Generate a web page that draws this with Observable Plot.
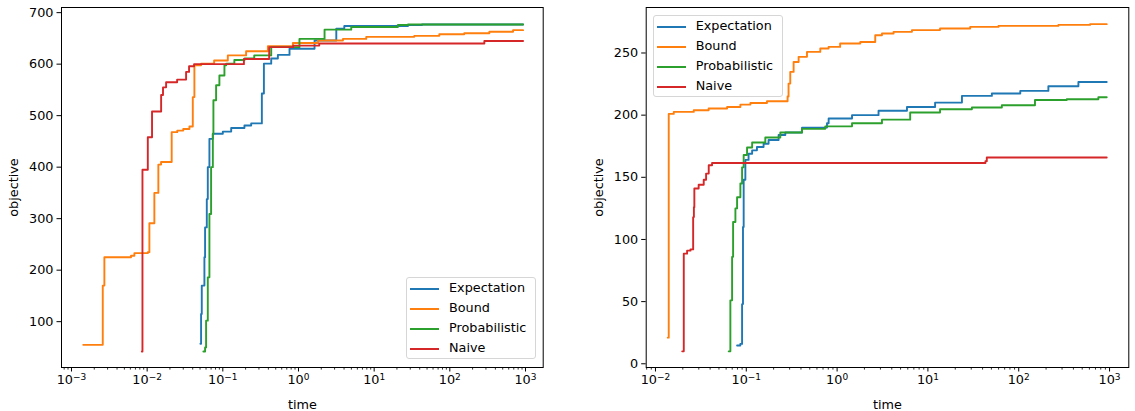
<!DOCTYPE html>
<html><head><meta charset="utf-8">
<script src="https://cdn.jsdelivr.net/npm/d3@7"></script>
<script src="https://cdn.jsdelivr.net/npm/@observablehq/plot@0.6"></script>
<style>
body{margin:0;background:#fff;}
#wrap{position:relative;width:1135px;height:411px;overflow:hidden;background:#fff;}
.panel{position:absolute;top:0;}
.legend{position:absolute;width:130px;height:82px;box-sizing:border-box;border:1px solid #d6d6d6;border-radius:3px;background:rgba(255,255,255,0.85);font:12.8px "DejaVu Sans";color:#000;}
.legend .row{position:absolute;left:0;height:16px;}
.legend .sw{position:absolute;left:3px;top:7px;width:29px;height:2px;}
.legend .lb{position:absolute;left:42px;top:-1px;white-space:nowrap;line-height:16px;}
</style></head><body><div id="wrap"></div>
<script>
const seriesNames = ["Expectation", "Bound", "Probabilistic", "Naive"];
const seriesColors = ["#1f77b4", "#ff7f0e", "#2ca02c", "#d62728"];

// Left panel
const leftExpectationTime = [0.0506,0.0516,0.0527,0.0571,0.0583,0.0614,0.0633,0.0665,0.0738,0.1,0.129,0.193,0.237,0.328,0.349,0.436,0.534,0.761,1.63,3.16,4.03,28,43,929];
const leftExpectationValue = [57,115,170,225,283,338,400,455,465,469,476,481,485,543,601,611,618,630,646,669,674,676,677,677];
const leftBoundTime = [0.00143,0.00259,0.00272,0.00612,0.00678,0.0102,0.0107,0.01245,0.01406,0.01527,0.0211,0.025,0.03,0.0362,0.0401,0.0421,0.0516,0.0767,0.1164,0.203,0.394,0.843,1.81,3.87,7.86,33.9,72.6,155,333,685,929];
const leftBoundValue = [55,170,225,228,233,235,291,350,405,410,468,471,474,479,536,598,601,607,617,625,635,641,646,649,653,655,658,660,663,666,666];
const leftProbabilisticTime = [0.0553,0.0583,0.0601,0.0633,0.0665,0.070,0.0738,0.0751,0.0815,0.0901,0.105,0.1107,0.142,0.194,0.26,0.436,1.03,2.21,4.98,20.6,28,929];
const leftProbabilisticValue = [42,50,102,186,309,400,465,530,559,578,598,601,608,611,617,633,649,667,672,676,677,677];
const leftNaiveTime = [0.0085,0.00867,0.0102,0.0116,0.0153,0.0162,0.0178,0.0249,0.0327,0.0358,0.0417,0.19,0.41,0.85,1.88,286,929];
const leftNaiveValue = [42,395,458,508,540,555,565,570,585,596,600,610,633,636,640,645,645];

// Right panel
const rightExpectationTime = [0.0792,0.086,0.0899,0.092,0.0936,0.0977,0.106,0.116,0.131,0.155,0.176,0.227,0.269,0.411,0.774,0.807,1.46,2.86,5.88,12,23.7,50.6,104,212,454,931];
const rightExpectationValue = [14.7,16,48,110,148,164,169,171.7,174.4,177,180,184,186,190,193.5,197.3,200,203.5,206.6,210.1,215.5,217.4,219.5,223.3,226.7,226.7];
const rightBoundTime = [0.01365,0.0140,0.0159,0.0264,0.0385,0.0615,0.0861,0.111,0.169,0.285,0.292,0.305,0.332,0.377,0.466,0.653,0.806,1.08,1.80,2.63,3.12,4.19,6.67,13.6,29.2,59.8,273,610,931];
const rightBoundValue = [21,201,202.6,204,205.3,206.6,208.5,209.8,211.2,215,225.4,234.8,242.8,246.9,250.9,253.6,254.9,257.6,258.9,264.3,265.7,267,268.4,269.7,271,271.8,272.6,273.2,273.2];
const rightProbabilisticTime = [0.064,0.0668,0.0698,0.0716,0.0759,0.0792,0.0861,0.0899,0.0936,0.102,0.116,0.162,0.237,0.411,0.741,1.46,3.12,6.38,13.6,30.5,65.2,151,338,753,931];
const rightProbabilisticValue = [10,51,86,114,125,134,145,158,168,174,178,182,186,189,191,193.5,196.4,202.1,204.8,206.1,208,212.2,212.8,214.4,214.4];
const rightNaiveTime = [0.0197,0.0205,0.0223,0.0243,0.0260,0.0265,0.0268,0.0299,0.034,0.0361,0.0386,0.042,43,44.5,931];
const rightNaiveValue = [10,88.6,91,92,118,126,141,144,148,153,159.7,161.5,163,165.9,165.9];

// Ticks
const leftXTicks = [1e-3, 1e-2, 1e-1, 1, 10, 100, 1000];
const rightXTicks = [1e-2, 1e-1, 1, 10, 100, 1000];
const leftYTicks = [100, 200, 300, 400, 500, 600, 700];
const rightYTicks = [0, 50, 100, 150, 200, 250];
const powerLabels = {"-3": "10^−3", "-2": "10^−2", "-1": "10^−1", "0": "10^0", "1": "10^1", "2": "10^2", "3": "10^3"};

function rows(times, values, s) { return times.map((t, i) => ({series: s, t, v: values[i]})); }

function panel({width, marginLeft, marginRight, xDomain, yDomain, xTicks, yTicks, series}) {
  const minor = [];
  for (let d = -4; d <= 3; d++) for (let k = 2; k <= 9; k++) {
    const v = k * Math.pow(10, d);
    if (v >= xDomain[0] && v <= xDomain[1]) minor.push(v);
  }
  const svg = Plot.plot({
    width, height: 411, marginLeft, marginRight, marginTop: 7, marginBottom: 44,
    style: {fontFamily: "DejaVu Sans", fontSize: "12.8px", color: "#000", background: "#fff", overflow: "visible"},
    x: {type: "log", domain: xDomain},
    y: {domain: yDomain},
    marks: [
      Plot.axisX(minor, {tickSize: 2.6, tickFormat: () => "", label: null, strokeWidth: 0.8}),
      Plot.axisX(xTicks, {tickSize: 4.5, tickPadding: 3, tickFormat: d => powerLabels[String(Math.round(Math.log10(d)))], label: "time", labelAnchor: "center", labelArrow: "none", strokeWidth: 1}),
      Plot.axisY(yTicks, {tickSize: 4.5, tickPadding: 3.5, label: "objective", labelAnchor: "center", labelArrow: "none", labelOffset: 52.5, strokeWidth: 1}),
      ...series.map((data, i) => Plot.line(data, {x: "t", y: "v", stroke: seriesColors[i], curve: "step-after", strokeWidth: 1.9})),
      Plot.frame({stroke: "#000", strokeWidth: 1})
    ]
  });
  // render "10^n" tick labels as base + superscript, like mathtext
  svg.querySelectorAll("text").forEach(t => {
    const s = t.textContent;
    if (s.startsWith("10^")) {
      const exp = s.slice(3);
      const tspans = t.querySelectorAll("tspan");
      const target = tspans.length ? tspans[0] : t;
      target.textContent = "10";
      const sup = document.createElementNS("http://www.w3.org/2000/svg", "tspan");
      sup.setAttribute("dy", "-0.5em");
      sup.setAttribute("font-size", "9px");
      sup.textContent = exp;
      target.appendChild(sup);
    }
  });
  return svg;
}

const wrap = document.getElementById("wrap");

const left = panel({
  width: 567, marginLeft: 61, marginRight: 24.3,
  xDomain: [Math.pow(10, -3.132), Math.pow(10, 3.234)], yDomain: [11, 710],
  xTicks: leftXTicks, yTicks: leftYTicks,
  series: [
    rows(leftExpectationTime, leftExpectationValue, seriesNames[0]),
    rows(leftBoundTime, leftBoundValue, seriesNames[1]),
    rows(leftProbabilisticTime, leftProbabilisticValue, seriesNames[2]),
    rows(leftNaiveTime, leftNaiveValue, seriesNames[3])
  ]
});
left.classList.add("panel"); left.style.left = "0px";
wrap.appendChild(left);

const right = panel({
  width: 568, marginLeft: 78.7, marginRight: 6.7,
  xDomain: [Math.pow(10, -2.102), Math.pow(10, 3.212)], yDomain: [-3, 286.6],
  xTicks: rightXTicks, yTicks: rightYTicks,
  series: [
    rows(rightExpectationTime, rightExpectationValue, seriesNames[0]),
    rows(rightBoundTime, rightBoundValue, seriesNames[1]),
    rows(rightProbabilisticTime, rightProbabilisticValue, seriesNames[2]),
    rows(rightNaiveTime, rightNaiveValue, seriesNames[3])
  ]
});
right.classList.add("panel"); right.style.left = "567px";
wrap.appendChild(right);

function legend(x, y) {
  const box = document.createElement("div");
  box.className = "legend";
  box.style.left = x + "px"; box.style.top = y + "px";
  seriesNames.forEach((name, i) => {
    const row = document.createElement("div");
    row.className = "row";
    row.style.top = (2.5 + i * 20) + "px";
    row.style.width = "128px";
    const sw = document.createElement("div");
    sw.className = "sw"; sw.style.background = seriesColors[i];
    const lb = document.createElement("div");
    lb.className = "lb"; lb.textContent = name;
    row.appendChild(sw); row.appendChild(lb);
    box.appendChild(row);
  });
  wrap.appendChild(box);
}
legend(406, 277);
legend(652.7, 15);
</script></body></html>
